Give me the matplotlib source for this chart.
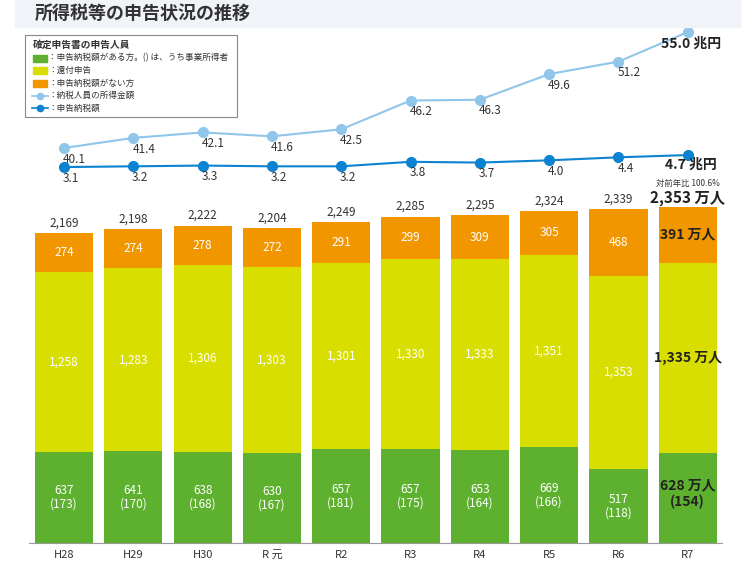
import matplotlib
matplotlib.use("Agg")
import matplotlib.pyplot as plt
from matplotlib.patches import Rectangle
from matplotlib.lines import Line2D

plt.rcParams['font.family'] = ['Noto Sans CJK JP', 'DejaVu Sans']

years = ["H28", "H29", "H30", "R 元", "R2", "R3", "R4", "R5", "R6", "R7"]
tax_pay = [637, 641, 638, 630, 657, 657, 653, 669, 517, 628]
business = [173, 170, 168, 167, 181, 175, 164, 166, 118, 154]
refund = [1258, 1283, 1306, 1303, 1301, 1330, 1333, 1351, 1353, 1335]
no_tax = [274, 274, 278, 272, 291, 299, 309, 305, 468, 391]
total = [2169, 2198, 2222, 2204, 2249, 2285, 2295, 2324, 2339, 2353]
income = [40.1, 41.4, 42.1, 41.6, 42.5, 46.2, 46.3, 49.6, 51.2, 55.0]
tax_amt = [3.1, 3.2, 3.3, 3.2, 3.2, 3.8, 3.7, 4.0, 4.4, 4.7]

GREEN, YELLOW, ORANGE = "#5db12f", "#d8df00", "#f29600"
LBLUE, DBLUE = "#8fc6ea", "#0b83d0"

W, H = 752, 578
fig = plt.figure(figsize=(7.52, 5.78), dpi=100)
pos = [29.4 / W, 1 - 543 / H, 693 / W, 523 / H]
ax = fig.add_axes(pos)
ax_i = fig.add_axes(pos, sharex=ax)
ax_t = fig.add_axes(pos, sharex=ax)
for a in (ax_i, ax_t):
    a.patch.set_visible(False)
    a.axis("off")

x = list(range(len(years)))
bw = 0.84
b1 = [a + b for a, b in zip(tax_pay, refund)]
ax.bar(x, tax_pay, bw, color=GREEN)
ax.bar(x, refund, bw, bottom=tax_pay, color=YELLOW)
ax.bar(x, no_tax, bw, bottom=b1, color=ORANGE)
ax.set_xlim(-0.5, 9.5)
ax.set_ylim(0, 3662)
for s in ("top", "right", "left"):
    ax.spines[s].set_visible(False)
ax.spines["bottom"].set_color("#999999")
ax.set_yticks([])
ax.set_xticks(x)
ax.set_xticklabels(years, fontsize=8, color="#333333")
ax.tick_params(axis="x", length=0, pad=5)

wt = dict(color="white", fontsize=8.5, ha="center", va="center")
for i in x:
    last = i == len(x) - 1
    if last:
        kw = dict(ha="center", va="center", fontsize=10, fontweight="bold", color="#222222")
        ax.text(i, b1[i] + no_tax[i] / 2, f"{no_tax[i]} 万人", **kw)
        ax.text(i, tax_pay[i] + refund[i] / 2, f"{refund[i]:,} 万人", **kw)
        ax.text(i, tax_pay[i] * 0.55, f"{tax_pay[i]} 万人\n({business[i]})", linespacing=1.2, **kw)
        ax.text(i, total[i] + 5, f"{total[i]:,} 万人", ha="center", va="bottom",
                fontsize=11, fontweight="bold", color="#222222")
        ax.text(i, total[i] + 130, "対前年比 100.6%", ha="center", va="bottom",
                fontsize=6, color="#333333")
    else:
        ax.text(i, b1[i] + no_tax[i] / 2, f"{no_tax[i]}", **wt)
        ax.text(i, tax_pay[i] + refund[i] / 2, f"{refund[i]:,}", **wt)
        ax.text(i, tax_pay[i] * 0.5, f"{tax_pay[i]}\n({business[i]})", linespacing=1.1, **wt)
        ax.text(i, total[i] + 25, f"{total[i]:,}", ha="center", va="bottom",
                fontsize=8.5, color="#333333")

ax_i.plot(x, income, color=LBLUE, marker="o", ms=7, lw=1.5)
ax_i.set_ylim(-10.67, 56.55)
ax_t.plot(x, tax_amt, color=DBLUE, marker="o", ms=7, lw=1.5)
ax_t.set_ylim(-47.0, 22.7)
for i in x:
    if i == len(x) - 1:
        ax_i.text(i + 0.05, income[i] - 0.6, f"{income[i]:.1f} 兆円", ha="center", va="top",
                  fontsize=10, fontweight="bold", color="#222222")
        ax_t.text(i + 0.05, tax_amt[i] - 0.3, f"{tax_amt[i]:.1f} 兆円", ha="center", va="top",
                  fontsize=10, fontweight="bold", color="#222222")
    else:
        ax_i.text(i + 0.15, income[i] - 0.6, f"{income[i]:.1f}", ha="center", va="top",
                  fontsize=8.5, color="#333333")
        ax_t.text(i + 0.1, tax_amt[i] - 0.6, f"{tax_amt[i]:.1f}", ha="center", va="top",
                  fontsize=8.5, color="#333333")

# title band
fig.patches.append(Rectangle((15 / W, 1 - 27 / H), 725 / W, 27 / H, transform=fig.transFigure,
                             color="#f0f3f8", zorder=0))
fig.text(35 / W, 1 - 13 / H, "所得税等の申告状況の推移", fontsize=13, fontweight="bold",
         color="#333333", va="center")

# legend
fig.patches.append(Rectangle((25 / W, 1 - 117 / H), 212 / W, 82 / H, transform=fig.transFigure,
                             fill=False, ec="#888888", lw=0.8))
fig.text(33 / W, 1 - 45 / H, "確定申告書の申告人員", fontsize=7, fontweight="bold",
         color="#333333", va="center")
items = [("patch", GREEN, "：申告納税額がある方。() は、うち事業所得者"),
         ("patch", YELLOW, "：還付申告"),
         ("patch", ORANGE, "：申告納税額がない方"),
         ("line", LBLUE, "：納税人員の所得金額"),
         ("line", DBLUE, "：申告納税額")]
for k, (kind, c, lab) in enumerate(items):
    yy = 1 - (58 + k * 12.5) / H
    if kind == "patch":
        fig.patches.append(Rectangle((33 / W, yy - 3.5 / H), 14 / W, 7 / H,
                                     transform=fig.transFigure, color=c))
    else:
        fig.lines.append(Line2D([32 / W, 48 / W], [yy, yy], transform=fig.transFigure,
                                color=c, lw=1.2))
        fig.lines.append(Line2D([40 / W], [yy], transform=fig.transFigure,
                                color=c, marker="o", ms=4.5))
    fig.text(48 / W, yy, lab, fontsize=6.2, color="#333333", va="center")

fig.savefig("out.png", dpi=100)
